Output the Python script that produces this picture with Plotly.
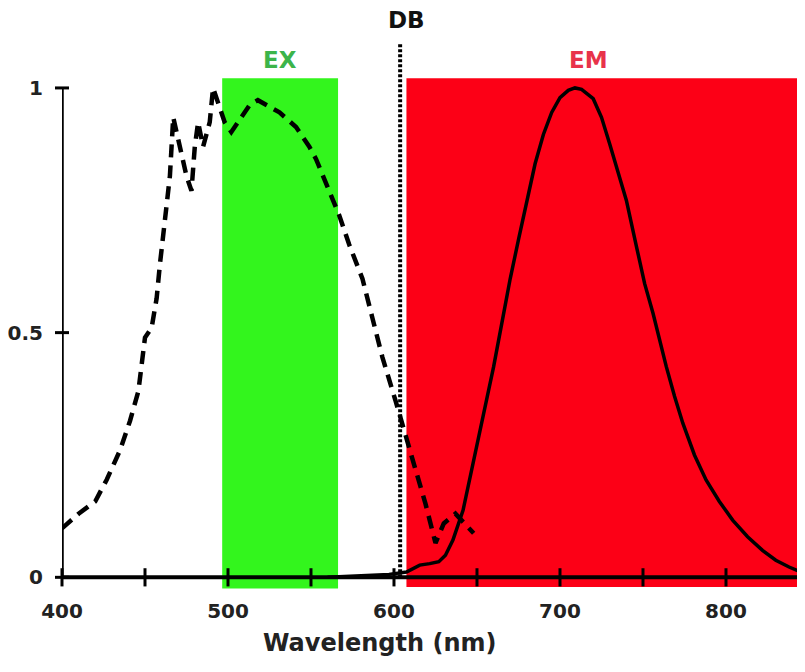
import plotly.graph_objects as go

# ---- data ----
ex_wl = [400, 410, 420, 427, 435, 441, 446, 450, 454, 457, 459, 461, 463, 465, 467,
         471, 475, 478, 480, 482, 485, 489, 491, 494, 498, 502, 508, 513, 518, 523,
         531, 541, 549, 553, 561, 567, 573, 581, 587, 593, 601, 607, 613, 619, 625,
         630, 637, 648]
ex_val = [0.10, 0.13, 0.155, 0.20, 0.26, 0.32, 0.38, 0.49, 0.51, 0.57, 0.64, 0.70, 0.76, 0.82, 0.94,
          0.88, 0.82, 0.79, 0.88, 0.93, 0.88, 0.93, 1.00, 0.97, 0.93, 0.91, 0.94, 0.965, 0.975, 0.965,
          0.95, 0.92, 0.88, 0.855, 0.79, 0.74, 0.68, 0.61, 0.53, 0.45, 0.36, 0.29, 0.22, 0.15, 0.07,
          0.11, 0.13, 0.09]

em_wl = [560, 587, 597, 607.5, 615.5, 621.5, 627, 631, 635.5, 641.6, 650, 655, 660, 665, 670,
         675, 680, 685, 690, 695, 700, 705, 709, 713, 720, 725, 730, 735, 740, 746, 751, 756,
         760, 764, 769, 774, 781, 788, 796, 804, 813, 822, 830, 838, 847]
em_val = [0.0, 0.004, 0.006, 0.011, 0.025, 0.028, 0.032, 0.045, 0.076, 0.137, 0.27, 0.35, 0.43,
          0.52, 0.61, 0.69, 0.77, 0.845, 0.905, 0.95, 0.98, 0.995, 1.0, 0.997, 0.978, 0.94, 0.885,
          0.83, 0.77, 0.677, 0.60, 0.54, 0.485, 0.431, 0.37, 0.315, 0.25, 0.199, 0.155, 0.117,
          0.083, 0.055, 0.035, 0.021, 0.008]

ex_band = [496.5, 566.3]      # excitation filter band (nm)
em_band = [607.5, 860]        # emission filter band (nm)
db_wl = 603.7                 # dichroic beamsplitter edge (nm)

x_ticks = [400, 450, 500, 550, 600, 650, 700, 750, 800]
x_labels = [400, 500, 600, 700, 800]
y_ticks = [0, 0.5, 1]
y_labels = ["0", "0.5", "1"]

FONT = "DejaVu Sans, Verdana, sans-serif"
Y_LO, Y_HI = -0.03, 1.1


def paper_y(v):
    return (v - Y_LO) / (Y_HI - Y_LO)


fig = go.Figure()

# filter bands
fig.add_shape(type="rect", xref="x", yref="y", x0=ex_band[0], x1=ex_band[1], y0=-0.023, y1=1.02,
              fillcolor="#33f51d", line_width=0, layer="below")
fig.add_shape(type="rect", xref="x", yref="y", x0=em_band[0], x1=em_band[1], y0=-0.02, y1=1.02,
              fillcolor="#fc0016", line_width=0, layer="below")

# excitation (dashed)
fig.add_trace(go.Scatter(x=ex_wl, y=ex_val, mode="lines",
                         line=dict(color="black", width=4.5, dash="13px,8px"),
                         hoverinfo="skip", showlegend=False))
# emission (solid)
fig.add_trace(go.Scatter(x=em_wl, y=em_val, mode="lines",
                         line=dict(color="black", width=3.5),
                         hoverinfo="skip", showlegend=False))

# axis lines
fig.add_shape(type="line", xref="x", yref="y", x0=400, x1=860, y0=0, y1=0,
              line=dict(color="black", width=4), layer="above")
fig.add_shape(type="line", xref="x", yref="y", x0=400, x1=400, y0=0, y1=1,
              line=dict(color="black", width=3.5), layer="above")
# dichroic line
fig.add_shape(type="line", xref="x", yref="y", x0=db_wl, x1=db_wl, y0=0, y1=1.092,
              line=dict(color="black", width=4, dash="3px,2px"), layer="above")

# tick marks crossing the axes
fig.add_trace(go.Scatter(x=x_ticks, y=[0] * len(x_ticks), mode="markers",
                         marker=dict(symbol="line-ns", size=13, line=dict(color="black", width=3)),
                         hoverinfo="skip", showlegend=False, cliponaxis=False))
fig.add_trace(go.Scatter(x=[400] * len(y_ticks), y=y_ticks, mode="markers",
                         marker=dict(symbol="line-ew", size=10, line=dict(color="black", width=3)),
                         hoverinfo="skip", showlegend=False, cliponaxis=False))

# labels
fig.add_annotation(x=(ex_band[0] + ex_band[1]) / 2, y=paper_y(1.057), xref="x", yref="paper",
                   text="EX", showarrow=False, yanchor="middle",
                   font=dict(family=FONT, size=23, color="#3cb44a", weight="bold"))
fig.add_annotation(x=717, y=paper_y(1.057), xref="x", yref="paper", text="EM",
                   showarrow=False, yanchor="middle",
                   font=dict(family=FONT, size=23, color="#e8334a", weight="bold"))
fig.add_annotation(x=db_wl + 4, y=paper_y(1.139), xref="x", yref="paper", text="DB",
                   showarrow=False, yanchor="middle",
                   font=dict(family=FONT, size=23, color="#111111", weight="bold"))
fig.add_annotation(x=591, y=0, xref="x", yref="paper", yshift=-51, text="Wavelength (nm)",
                   showarrow=False, yanchor="middle",
                   font=dict(family=FONT, size=24, color="#222222", weight="bold"))

# page body has an 8px margin: shrink figure and margins to keep the plot where it belongs
fig.update_layout(
    width=797, height=664,
    margin=dict(l=54, r=0, t=31, b=80),
    paper_bgcolor="white", plot_bgcolor="white",
    showlegend=False,
    xaxis=dict(range=[400, 847.6], showgrid=False, zeroline=False, showline=False,
               tickmode="array", tickvals=x_labels, ticktext=[str(v) for v in x_labels],
               ticks="", tickfont=dict(family=FONT, size=20, color="#222222", weight="bold"),
               ticklabelstandoff=5, fixedrange=True),
    yaxis=dict(range=[Y_LO, Y_HI], showgrid=False, zeroline=False, showline=False,
               tickmode="array", tickvals=y_ticks, ticktext=y_labels,
               ticks="", tickfont=dict(family=FONT, size=20, color="#222222", weight="bold"),
               ticklabelstandoff=18, fixedrange=True),
)

fig.write_html("out.html")
